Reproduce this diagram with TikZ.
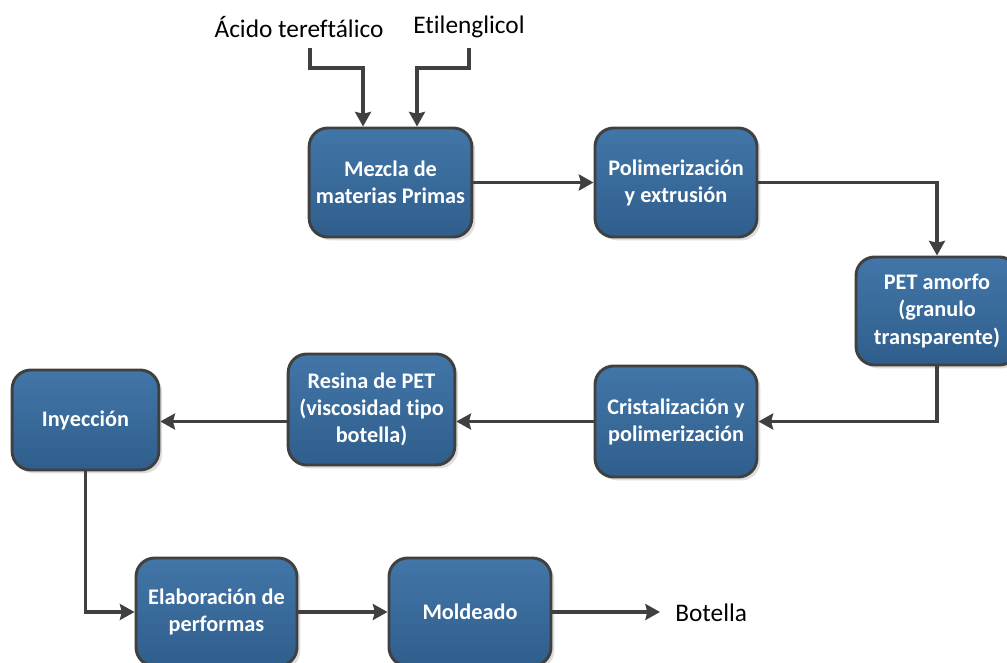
\documentclass[tikz,border=0pt]{standalone}
\usepackage{fontspec}
\setmainfont{Carlito}[Ligatures={NoCommon}]
\usetikzlibrary{arrows.meta,shadows}
\definecolor{boxtop}{RGB}{66,118,168}
\definecolor{boxbot}{RGB}{47,94,140}
\definecolor{edgec}{RGB}{64,64,64}
\tikzset{
 proc/.style={draw=edgec, line width=2.2pt, rounded corners=14pt, top color=boxtop, bottom color=boxbot,
   text=white, font=\fontsize{16.7}{20.3}\selectfont\bfseries, align=center, inner sep=0pt,
   drop shadow={shadow xshift=2.5pt, shadow yshift=-2.5pt, fill=black!13, opacity=1}},
 link/.style={draw=edgec, line width=2.4pt, -{Stealth[length=11pt,width=12pt,inset=1.5pt]}},
 lbl/.style={font=\fontsize{19}{23}\selectfont, inner sep=0pt, text=black}
}
\begin{document}
\begin{tikzpicture}[x=0.75pt, y=-0.75pt]
\useasboundingbox (0,0) rectangle (1007,663);
\clip (0,0) rectangle (1007,663);
% labels
\node[lbl] (acido) at (299,27) {Ácido tereftálico};
\node[lbl] (etil) at (469,27) {Etilenglicol};
\coordinate (a1) at (310,48);
\coordinate (e1) at (469,48);
% boxes
\node[proc, minimum width=122pt, minimum height=81.75pt] (mezcla) at (390.5,182.5) {Mezcla de\\materias Primas};
\node[proc, minimum width=121.5pt, minimum height=81.75pt] (polim) at (676,182.5) {Polimerización\\y extrusión};
\node[proc, minimum width=121.5pt, minimum height=81pt] (pet) at (937,311) {PET amorfo\\(granulo\\transparente)};
\node[proc, minimum width=121.5pt, minimum height=83.25pt] (crist) at (676,421.5) {Cristalización y\\polimerización};
\node[proc, minimum width=125pt, minimum height=83.25pt] (resina) at (371.5,409.5) {Resina de PET\\(viscosidad tipo\\botella)};
\node[proc, minimum width=110pt, minimum height=75pt] (inyec) at (85.5,420) {Inyección};
\node[proc, minimum width=120.75pt, minimum height=81pt] (elab) at (216.5,612) {Elaboración de\\performas};
\node[proc, minimum width=121.5pt, minimum height=81pt] (mold) at (470,612) {Moldeado};
\coordinate (bot) at (660,612);
\node[lbl, anchor=west] (botella) at (675,613) {Botella};
% connectors
\draw[link] (a1) -- ++(0,20) -| ([xshift=-20.6pt]mezcla.north);
\draw[link] (e1) -- ++(0,20) -| ([xshift=19.9pt]mezcla.north);
\draw[link] (mezcla.east) -- (polim.west);
\draw[link] (polim.east) -| (pet.north);
\draw[link] (pet.south) |- (crist.east);
\draw[link] (crist.west) -- (crist.west -| resina.east);
\draw[link] (crist.west -| resina.west) -- (crist.west -| inyec.east);
\draw[link] (inyec.south) |- (elab.west);
\draw[link] (elab.east) -- (mold.west);
\draw[link] (mold.east) -- (bot);
\end{tikzpicture}
\end{document}
